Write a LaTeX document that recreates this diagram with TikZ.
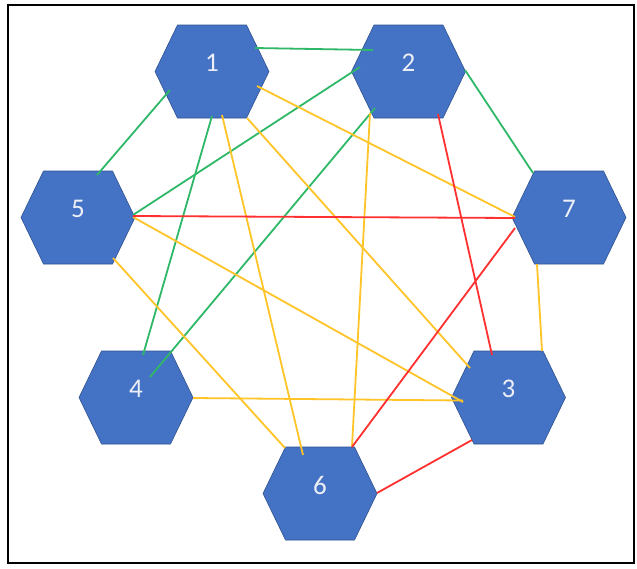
\documentclass[tikz,border=0pt]{standalone}
\usepackage{fontspec}
\setmainfont{Carlito}
\definecolor{hexfill}{RGB}{68,114,196}
\definecolor{hexborder}{RGB}{47,82,143}
\definecolor{hexlbl}{RGB}{236,239,248}
\definecolor{egreen}{RGB}{46,184,104}
\definecolor{eyellow}{RGB}{255,196,40}
\definecolor{ered}{RGB}{255,48,48}
\tikzset{
  hexshape/.style={fill=hexfill, draw=hexborder, line width=0.6pt, line join=round},
  hexlabel/.style={text=hexlbl, font=\fontsize{27}{32}\selectfont, inner sep=0pt, yshift=8.5pt},
  hexbox/.style={minimum width=114pt, minimum height=93pt, inner sep=0pt},
  ge/.style={draw=egreen, line width=1.8pt},
  ye/.style={draw=eyellow, line width=1.8pt},
  re/.style={draw=ered, line width=1.8pt},
}
\newcommand\hexat[4]{%
  \path[hexshape] (#2-57,#3) -- (#2-34.5,#3-46.5) -- (#2+34.5,#3-46.5) -- (#2+57,#3) -- (#2+34.5,#3+46.5) -- (#2-34.5,#3+46.5) -- cycle;
  \node[hexbox, label={[hexlabel]center:#4}] (#1) at (#2,#3) {};
}
\newcommand\edge[5]{\draw[#1] ([shift={#3}]#2.center) -- ([shift={#5}]#4.center);}
\begin{document}
\begin{tikzpicture}[x=1pt,y=-1pt]
\useasboundingbox (0,0) rectangle (637,568);
\fill[white] (0,0) rectangle (637,568);
\draw[line width=2pt, black] (8,5) rectangle (634,563);
\hexat{n1}{212}{71.5}{1}
\hexat{n2}{408.5}{71.5}{2}
\hexat{n5}{78}{217.5}{5}
\hexat{n7}{569}{217.5}{7}
\hexat{n4}{136}{397.5}{4}
\hexat{n3}{508.5}{397.5}{3}
\hexat{n6}{320}{493.5}{6}
% green
\edge{ge}{n1}{(43,-23.5)}{n2}{(-35.5,-21.5)}
\edge{ge}{n1}{(-42,18.5)}{n5}{(19,-42.5)}
\edge{ge}{n2}{(-48.5,-4.5)}{n5}{(55,-2.5)}
\edge{ge}{n2}{(56.5,-1.5)}{n7}{(-36,-44.5)}
\edge{ge}{n1}{(0,44.5)}{n4}{(7,-42.5)}
\edge{ge}{n2}{(-33.5,36.5)}{n4}{(14,-20.5)}
% yellow
\edge{ye}{n1}{(45,14.5)}{n7}{(-54,-0.5)}
\edge{ye}{n1}{(10,43.5)}{n6}{(-17,-38.5)}
\edge{ye}{n1}{(35,46.5)}{n3}{(-38.5,-29.5)}
\edge{ye}{n2}{(-38.5,41.5)}{n6}{(32,-47)}
\edge{ye}{n5}{(55,-0.5)}{n3}{(-45.5,4.5)}
\edge{ye}{n5}{(35,40.5)}{n6}{(-35,-45.5)}
\edge{ye}{n4}{(57,0.5)}{n3}{(-45.5,3)}
\edge{ye}{n7}{(-32,46.5)}{n3}{(33.5,-46.5)}
% red
\edge{re}{n5}{(55,-1.5)}{n7}{(-54,0.5)}
\edge{re}{n2}{(29.5,42.5)}{n3}{(-16.5,-42.5)}
\edge{re}{n7}{(-54,10.5)}{n6}{(32,-46.5)}
\edge{re}{n6}{(57,-0.5)}{n3}{(-36.5,42.5)}
\end{tikzpicture}
\end{document}
